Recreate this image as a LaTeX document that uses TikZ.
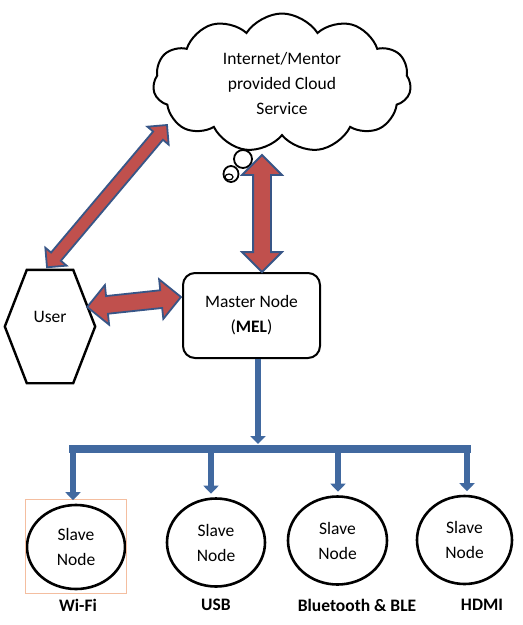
\documentclass[tikz,border=0pt]{standalone}
\usepackage{fontspec}
\setmainfont{Carlito}
\usetikzlibrary{shapes.geometric,shapes.symbols,shapes.arrows,arrows.meta,calc}
\definecolor{arrowred}{RGB}{192,80,77}
\definecolor{arrowblue}{RGB}{56,86,135}
\definecolor{linkblue}{RGB}{65,105,160}
\definecolor{peach}{RGB}{244,190,160}
\newcommand{\diagfont}{\fontsize{17.5}{25}\selectfont}
\tikzset{
  dblarrow/.style={shape=double arrow, draw=arrowblue, fill=arrowred, line width=1.8pt,
    inner sep=8pt, double arrow head extend=11pt},
  thinarrow/.style={dblarrow, inner sep=5.5pt, double arrow head extend=7.5pt},
  slave/.style={ellipse, draw, line width=2.6pt, minimum width=98pt, minimum height=88pt,
    align=center, inner sep=0pt},
  port/.style={font=\diagfont\bfseries},
  link/.style={draw=linkblue, line width=6.5pt, -{Triangle[width=15pt,length=8pt]}}
}
\begin{document}
\begin{tikzpicture}[x=1pt,y=-1pt,font=\diagfont]
\useasboundingbox (0,0) rectangle (523,625);
%%cloud
\node[cloud, draw, line width=2pt, cloud puffs=11, cloud puff arc=115, cloud ignores aspect,
  minimum width=258pt, minimum height=139pt, inner sep=0pt, align=center]
  (cloud) at (282,83) {Internet/Mentor\\provided Cloud\\Service};
\draw[line width=1.8pt, fill=white] (243,159) circle (9pt);
\draw[line width=1.8pt, fill=white] (231,174) ellipse (7.5pt and 8pt);
\draw[line width=1.2pt] (229,177) ellipse (4pt and 3pt);

%%master and user
\node[draw, rounded corners=12pt, line width=2pt, minimum width=137pt, minimum height=85pt,
  align=center] (master) at (251.5,315.5) {Master Node\\(\textbf{MEL})};
\node[minimum width=90pt, minimum height=113pt, inner sep=0pt] (user) at (50,326.5) {};
\draw[line width=2.4pt, line join=miter] ($(user.north west)+(22,0)$) -- ($(user.north east)+(-22,0)$)
  -- (user.east) -- ($(user.south east)+(-22,0)$) -- ($(user.south west)+(22,0)$)
  -- (user.west) -- cycle;
\node (usertext) at (50,317) {User};

%%red arrows
\coordinate (cloudleft) at ($(cloud.center)+(-115,42)$);
\coordinate (usertop) at ($(user.north)+(-3,-2.5)$);
\coordinate (cloudfoot) at ($(cloud.center)+(-20,72)$);
\coordinate (mastertop) at ($(master.north)+(10.5,0)$);
\coordinate (userright) at ($(user.east)+(-8,-19.5)$);
\coordinate (masterleft) at ($(master.west)+(-1,-18.5)$);
\path let \p1=($(cloudleft)-(usertop)$), \n1={veclen(\x1,\y1)} in
  (usertop) -- (cloudleft) node[midway, sloped, thinarrow, minimum height=\n1] {};
\path let \p1=($(mastertop)-(cloudfoot)$), \n1={veclen(\x1,\y1)} in
  (cloudfoot) -- (mastertop) node[midway, sloped, dblarrow, minimum height=\n1] {};
\path let \p1=($(masterleft)-(userright)$), \n1={veclen(\x1,\y1)} in
  (userright) -- (masterleft) node[midway, sloped, dblarrow, minimum height=\n1] {};

%%slaves
\node[slave, minimum height=84pt] (wifi) at (76,547) {Slave\\Node};
\node[slave] (usb) at (216,542.5) {Slave\\Node};
\node[slave, minimum width=99pt] (ble) at (337.5,540.5) {Slave\\Node};
\node[slave, minimum width=95pt] (hdmi) at (464.5,540) {Slave\\Node};
\draw[peach, line width=0.7pt] ($(wifi.west |- wifi.north)+(0,-4)$) rectangle ($(wifi.east |- wifi.south)+(0,3)$);

%%bus
\coordinate (mastertap) at ($(master.south)+(6.5,0)$);
\draw[link] (mastertap) -- (mastertap |- 0,444);
\draw[linkblue, line width=8pt] (69,449) -- (471,449);
\foreach \n/\x in {wifi/73, usb/211, ble/338, hdmi/467}
  \draw[link, shorten >=3.5pt] (\x,446) -- (\x,446 |- \n.north);

%%labels
\node[port] (wifilabel) at (78,605) {Wi-Fi};
\node[port] (usblabel) at (216,605) {USB};
\node[port] (blelabel) at (357,605) {Bluetooth \& BLE};
\node[port] (hdmilabel) at (482,605) {HDMI};
\end{tikzpicture}
\end{document}
